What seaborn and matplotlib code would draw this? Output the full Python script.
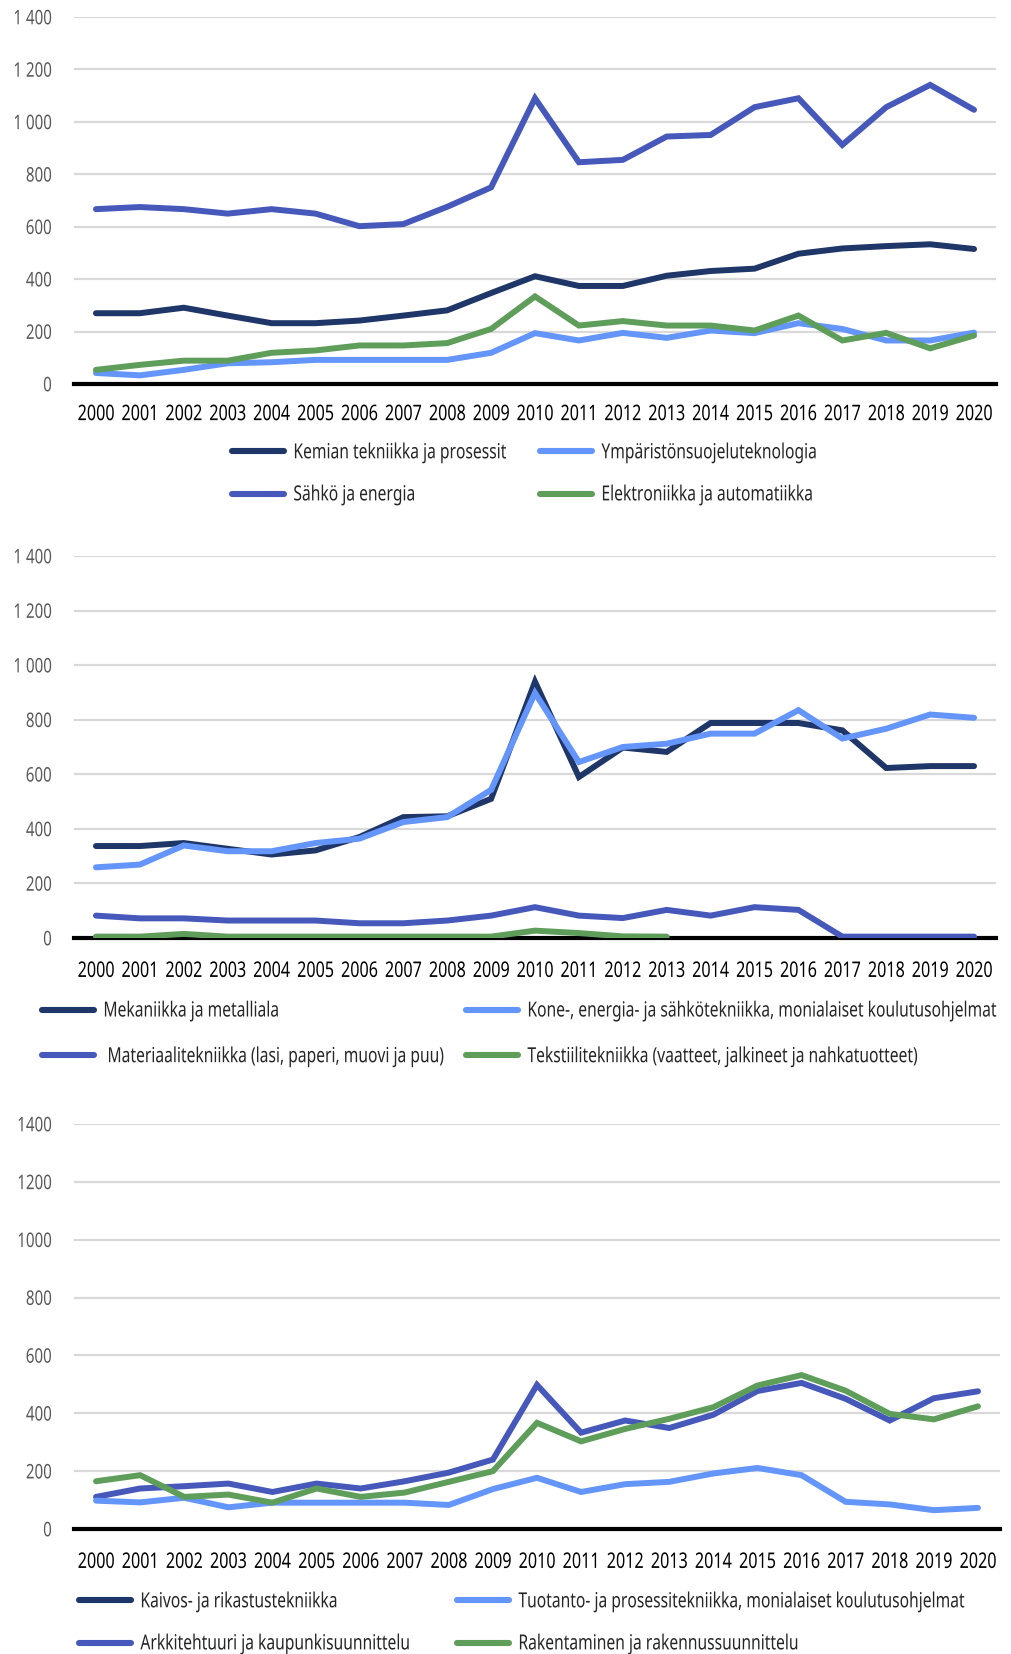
import matplotlib
matplotlib.use("Agg")
import matplotlib.pyplot as plt
from matplotlib.lines import Line2D
from matplotlib.patheffects import AbstractPathEffect
from matplotlib.transforms import Affine2D
import numpy as np
import seaborn as sns

sns.set_style("white")
plt.rcParams['font.family'] = ['Noto Sans', 'DejaVu Sans']

# colours
navy = "#1f3668"
mid_blue = "#4659bb"
light_blue = "#6495fa"
green = "#5e9e5a"

years = list(range(2000, 2021))

# chart 1
kemian = [270, 270, 291, 261, 232, 232, 242, 261, 281, 347, 411, 374, 374, 413, 431, 440, 497, 517, 526, 533, 515]
sahko = [667, 675, 667, 650, 667, 650, 602, 610, 676, 750, 1090, 846, 855, 944, 950, 1056, 1090, 912, 1056, 1141, 1046]
ymparisto = [42, 33, 54, 79, 83, 92, 92, 92, 92, 119, 194, 166, 195, 176, 204, 194, 232, 210, 166, 166, 196]
elektroniikka = [54, 73, 89, 89, 119, 128, 147, 147, 156, 210, 334, 223, 240, 223, 223, 204, 261, 166, 195, 136, 185]

# chart 2
mekaniikka = [337, 337, 348, 327, 306, 321, 370, 443, 446, 510, 939, 590, 698, 682, 788, 788, 788, 761, 623, 630, 630]
kone = [259, 269, 339, 318, 318, 348, 364, 425, 443, 543, 898, 645, 700, 712, 749, 749, 835, 731, 767, 819, 807]
materiaali = [82, 72, 72, 64, 64, 64, 54, 54, 64, 82, 113, 82, 73, 103, 82, 113, 103, 5, 5, 5, 5]
tekstiili = [5, 5, 15, 5, 5, 5, 5, 5, 5, 5, 27, 18, 6, 5] + [np.nan] * 7

# chart 3
kaivos = [np.nan] * 21
tuotanto = [98, 92, 108, 75, 91, 91, 91, 91, 83, 138, 177, 128, 155, 163, 192, 211, 186, 94, 85, 65, 73]
arkkitehtuuri = [111, 140, 148, 157, 128, 157, 140, 165, 195, 240, 498, 333, 375, 349, 395, 477, 505, 450, 375, 452, 476]
rakentaminen = [165, 186, 111, 119, 91, 140, 111, 126, 163, 200, 367, 303, 346, 381, 421, 496, 532, 478, 398, 379, 424]

SQ = 0.75  # condensed look: text laid out at SQ * size, then stretched back up vertically


class Tall(AbstractPathEffect):
    # stretch glyphs vertically about their middle -> narrow, condensed face
    def __init__(self, sy):
        super().__init__()
        self.sy = sy

    def draw_path(self, renderer, gc, tpath, affine, rgbFace=None):
        ext = tpath.get_extents()
        cy = (ext.y0 + ext.y1) / 2
        pre = Affine2D().translate(0, -cy).scale(1, self.sy).translate(0, cy)
        renderer.draw_path(gc, tpath, pre + affine, rgbFace)


tall = [Tall(1 / SQ)]

charts = [
    {"series": [("Kemian tekniikka ja prosessit", kemian, navy),
                ("Sähkö ja energia", sahko, mid_blue),
                ("Ympäristönsuojeluteknologia", ymparisto, light_blue),
                ("Elektroniikka ja automatiikka", elektroniikka, green)],
     "rect": [74, 17, 996, 384], "ylabels": ["0", "200", "400", "600", "800", "1 000", "1 200", "1 400"],
     "xpad": 16, "leg_x": [232, 540], "leg_y": 474, "leg_sp": 1.67},
    {"series": [("Mekaniikka ja metalliala", mekaniikka, navy),
                (" Materiaalitekniikka (lasi, paperi, muovi ja puu)", materiaali, mid_blue),
                ("Kone-, energia- ja sähkötekniikka, monialaiset koulutusohjelmat", kone, light_blue),
                ("Tekstiilitekniikka (vaatteet, jalkineet ja nahkatuotteet)", tekstiili, green)],
     "rect": [74, 556, 996, 938], "ylabels": ["0", "200", "400", "600", "800", "1 000", "1 200", "1 400"],
     "xpad": 18, "leg_x": [42, 466], "leg_y": 1034, "leg_sp": 1.9},
    {"series": [("Kaivos- ja rikastustekniikka", kaivos, navy),
                ("Arkkitehtuuri ja kaupunkisuunnittelu", arkkitehtuuri, mid_blue),
                ("Tuotanto- ja prosessitekniikka, monialaiset koulutusohjelmat", tuotanto, light_blue),
                ("Rakentaminen ja rakennussuunnittelu", rakentaminen, green)],
     "rect": [74, 1124, 1000, 1529], "ylabels": ["0", "200", "400", "600", "800", "1000", "1200", "1400"],
     "xpad": 18, "leg_x": [79, 457], "leg_y": 1623, "leg_sp": 1.67},
]

W, H = 1011, 1654
fig = plt.figure(figsize=(W / 100, H / 100), dpi=100)

for ch in charts:
    x0, y0, x1, y1 = ch["rect"]
    ax = fig.add_axes([x0 / W, 1 - y1 / H, (x1 - x0) / W, (y1 - y0) / H])
    for label, vals, col in ch["series"]:
        arr = np.array(vals, dtype=float)
        if np.all(np.isnan(arr)):
            continue
        sns.lineplot(x=years, y=arr, ax=ax, color=col, linewidth=4.3,
                     solid_capstyle='round', solid_joinstyle='miter', zorder=3)
    ax.set_xlim(1999.5, 2020.5)
    ax.set_ylim(0, 1400)
    ax.set_xticks(years)
    ax.set_xticklabels([str(y) for y in years], fontsize=15.5 * SQ, color="black")
    ax.set_yticks(range(0, 1401, 200))
    ax.set_yticklabels(ch["ylabels"], fontsize=14.5 * SQ, color="#595959")
    ax.tick_params(axis='x', length=0, pad=ch["xpad"])
    ax.tick_params(axis='y', length=0, pad=16)
    for t in ax.get_xticklabels() + ax.get_yticklabels():
        t.set_path_effects(tall)
    ax.grid(axis='y', color="#d9d9d9", linewidth=1.6, zorder=0)
    ax.set_axisbelow(True)
    for s in ["top", "right", "left"]:
        ax.spines[s].set_visible(False)
    ax.spines["bottom"].set_color("black")
    ax.spines["bottom"].set_linewidth(3)
    ax.spines["bottom"].set_zorder(2)
    ax.set_xlabel("")
    ax.set_ylabel("")

    # two single-column legends, row by row like the original
    for i, lx in enumerate(ch["leg_x"]):
        pair = ch["series"][i * 2:i * 2 + 2]
        handles = [Line2D([0], [0], color=c, linewidth=4.4, solid_capstyle='round') for _, _, c in pair]
        leg = fig.legend(handles, [l for l, _, _ in pair], loc='center left',
                         bbox_to_anchor=(lx / W, 1 - ch["leg_y"] / H),
                         frameon=False, fontsize=15 * SQ, handlelength=3.33, handletextpad=0.6,
                         labelspacing=ch["leg_sp"], borderpad=0, borderaxespad=0)
        for t in leg.get_texts():
            t.set_path_effects(tall)

plt.savefig("out.png", dpi=100)
